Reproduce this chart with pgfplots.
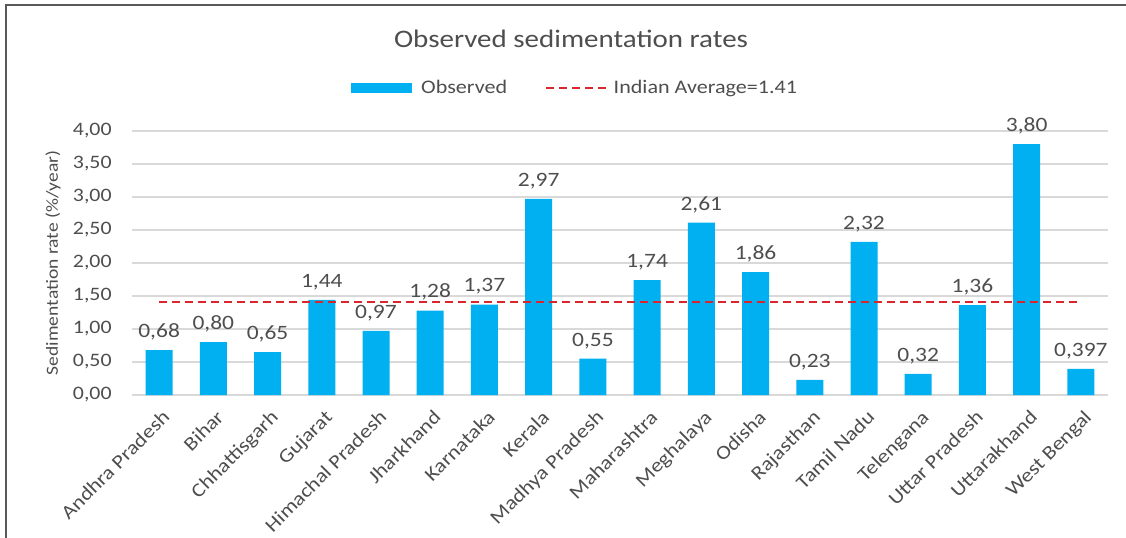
\documentclass[border=0pt]{standalone}
\usepackage{fontspec}
\setmainfont{Carlito}[FakeStretch=1.15]
\usepackage{pgfplots}
\pgfplotsset{compat=1.18}
\definecolor{barblue}{RGB}{0,176,240}
\definecolor{avgred}{RGB}{218,37,45}
\definecolor{txt}{RGB}{78,78,78}
\definecolor{gridc}{RGB}{217,217,217}
\begin{document}
\begin{tikzpicture}
\useasboundingbox (0,0) rectangle (563pt,268.5pt);
\clip (0,0) rectangle (563pt,268.5pt);
\draw[line width=1.2pt, black!65] (3pt,-20pt) -- (3pt,266pt) -- (600pt,266pt);
\node[anchor=base, font=\fontsize{12.6}{15}\selectfont, text=txt, inner sep=0pt] at (285.5pt,244.5pt) {Observed sedimentation rates};
\begin{axis}[
  at={(66pt,71pt)}, anchor=south west,
  width=488pt, height=132pt, scale only axis,
  xmin=-0.5, xmax=17.5, ymin=0, ymax=4,
  ytick={0,0.5,1,1.5,2,2.5,3,3.5,4},
  xtick={0,...,17},
  xticklabels={Andhra Pradesh, Bihar, Chhattisgarh, Gujarat, Himachal Pradesh, Jharkhand, Karnataka, Kerala, Madhya Pradesh, Maharashtra, Meghalaya, Odisha, Rajasthan, Tamil Nadu, Telengana, Uttar Pradesh, Uttarakhand, West Bengal},
  ymajorgrids, grid style={gridc, line width=0.8pt},
  axis line style={draw=none}, major tick length=0pt,
  yticklabel style={/pgf/number format/fixed, /pgf/number format/fixed zerofill, /pgf/number format/precision=2, /pgf/number format/use comma, /pgf/number format/assume math mode=true},
  yticklabel style={font=\fontsize{9.5}{10}\selectfont, text=txt, inner sep=0pt, xshift=-10pt},
  xticklabel style={font=\fontsize{9.7}{11}\selectfont, text=txt, rotate=45, anchor=north east, inner sep=1pt, yshift=-4.5pt, xshift=-3pt},
  ylabel={Sedimentation rate (\%/year)},
  ylabel style={at={(axis description cs:-0.081,0.5)}, anchor=center, font=\fontsize{8.5}{10}\selectfont, text=txt},
  legend style={at={(axis description cs:0.455,1.163)}, anchor=center, draw=none, fill=none, legend columns=2, font=\fontsize{9.6}{11}\selectfont, text=txt, inner sep=0pt},
  legend cell align=left,
]
\addplot[ybar, bar width=13.5pt, fill=barblue, draw=none,
  nodes near coords, point meta=explicit symbolic,
  nodes near coords style={font=\fontsize{10.2}{11}\selectfont, text=txt, anchor=south, yshift=1.5pt},
  legend image code/.code={\fill[barblue] (0pt,-2.3pt) rectangle (30.5pt,2.3pt); \path (33pt,0pt);}]
  table[x=x, y=y, meta=lab] {
x y lab
0 0.68 0,68
1 0.80 0,80
2 0.65 0,65
3 1.44 1,44
4 0.97 0,97
5 1.28 1,28
6 1.37 1,37
7 2.97 2,97
8 0.55 0,55
9 1.74 1,74
10 2.61 2,61
11 1.86 1,86
12 0.23 0,23
13 2.32 2,32
14 0.32 0,32
15 1.36 1,36
16 3.80 3,80
17 0.397 0,397
};
\addlegendentry{Observed}
\addplot[avgred, line width=1.3pt, dash pattern=on 4pt off 2.5pt, sharp plot,
  legend image code/.code={\path (-17pt,0pt); \draw[avgred, line width=1.3pt, dash pattern=on 4pt off 2.5pt] (0pt,0pt) -- (30pt,0pt); \path (31pt,0pt);}]
  coordinates {(0,1.41) (17,1.41)};
\addlegendentry{Indian Average=1.41}
\end{axis}
\end{tikzpicture}
\end{document}
